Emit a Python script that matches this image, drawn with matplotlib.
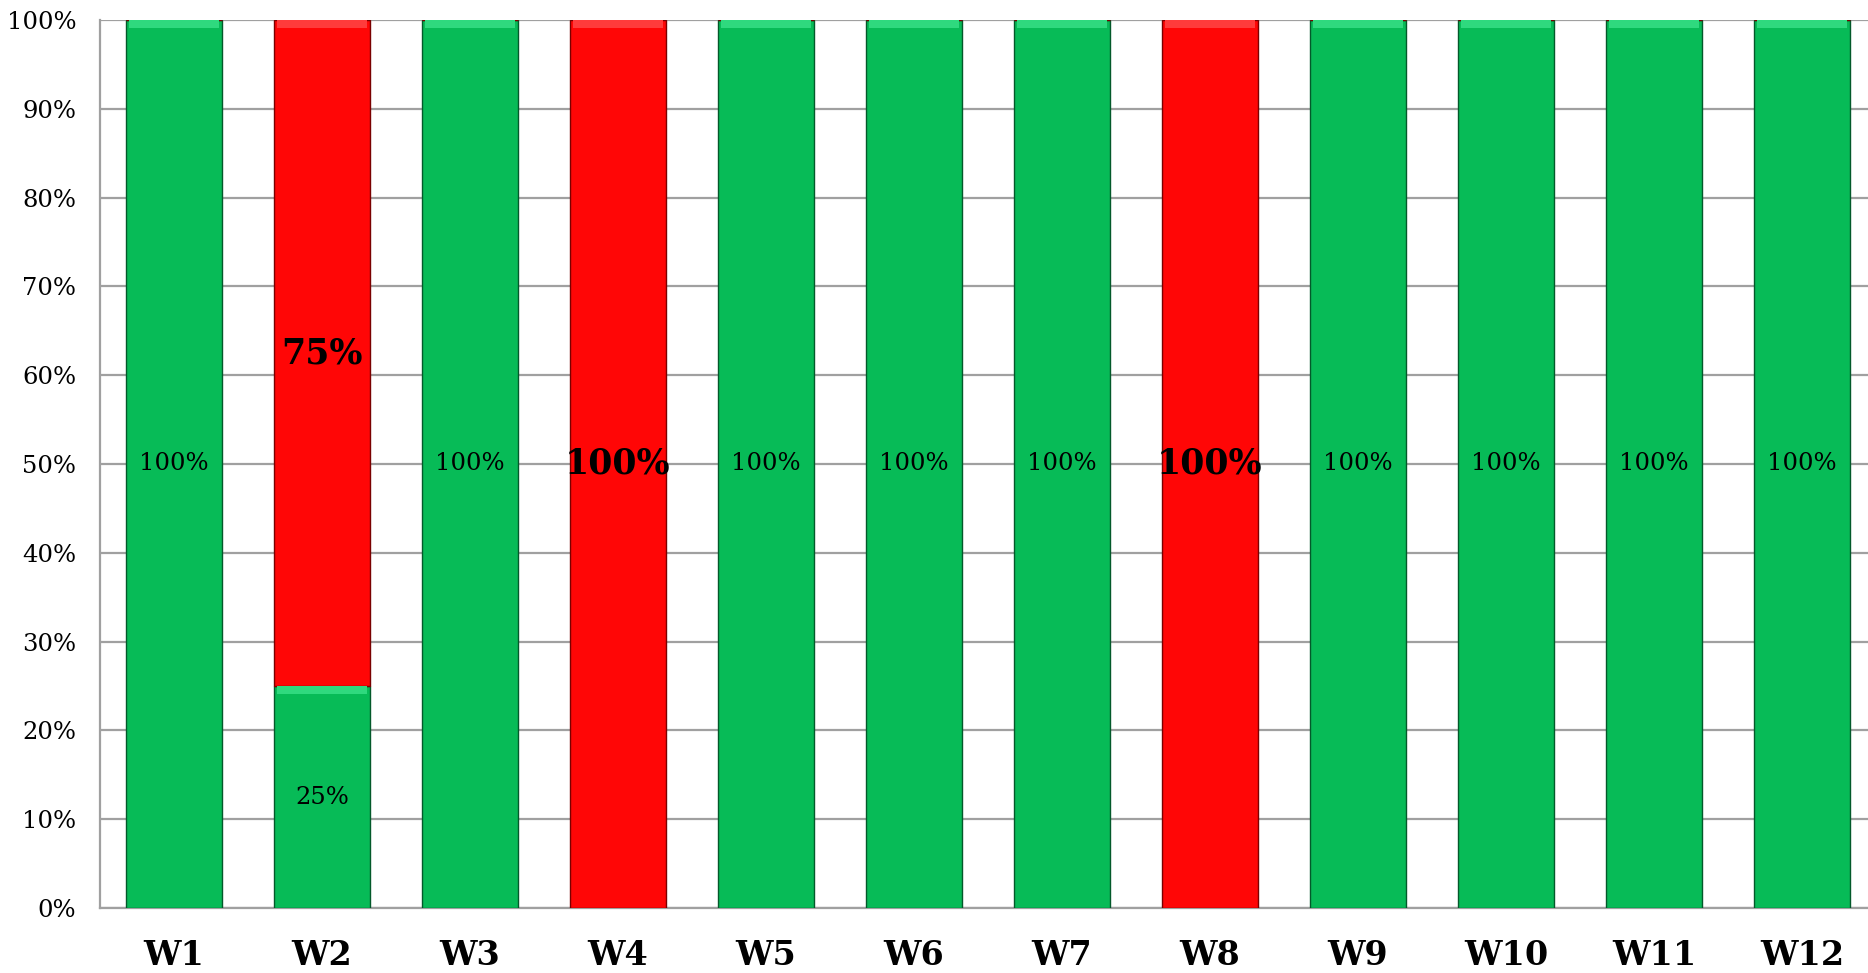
import matplotlib
matplotlib.use("Agg")
import matplotlib.pyplot as plt
import numpy as np

# data (percent of each week)
weeks = ["W1", "W2", "W3", "W4", "W5", "W6", "W7", "W8", "W9", "W10", "W11", "W12"]
green_pct = [100, 25, 100, 0, 100, 100, 100, 0, 100, 100, 100, 100]
red_pct = [0, 75, 0, 100, 0, 0, 0, 100, 0, 0, 0, 0]
yticks = [0, 10, 20, 30, 40, 50, 60, 70, 80, 90, 100]

GREEN = "#07BB57"
GREEN_TOP = "#2FD97E"
GREEN_EDGE = "#03592A"
RED = "#FF0606"
RED_TOP = "#FF3B3B"
RED_EDGE = "#7A0000"

plt.rcParams["font.family"] = ["DejaVu Serif"]

fig = plt.figure(figsize=(18.68, 9.73), dpi=100)
ax = fig.add_axes([100 / 1868, 65 / 973, 1776 / 1868, 888 / 973])

x = np.arange(len(weeks))
green = np.array(green_pct)
red = np.array(red_pct)
w = 0.65

ax.set_axisbelow(True)
ax.yaxis.grid(True, color="#A0A0A0", lw=1.6)

g = ax.bar(x, green, w, color=GREEN, edgecolor=GREEN_EDGE, lw=1.0, zorder=3)
r = ax.bar(x, red, w, bottom=green, color=RED, edgecolor=RED_EDGE, lw=1.0, zorder=3)

# light bevel strip along the top of each segment
bev = 0.9
gm = green > 0
rm = red > 0
ax.bar(x[gm], bev, w * 0.94, bottom=green[gm] - bev, color=GREEN_TOP, lw=0, zorder=4)
ax.bar(x[rm], bev, w * 0.94, bottom=(green + red)[rm] - bev, color=RED_TOP, lw=0, zorder=4)

ax.bar_label(g, labels=[f"{v}%" if v > 0 else "" for v in green_pct],
             label_type="center", fontsize=17.5, color="black", zorder=5)
ax.bar_label(r, labels=[f"{v}%" if v > 0 else "" for v in red_pct],
             label_type="center", fontsize=25, fontweight="bold", color="black", zorder=5)

ax.set_xlim(-0.5, len(weeks) - 0.5)
ax.set_ylim(0, 100)
ax.set_yticks(yticks)
ax.set_yticklabels([f"{t}%" for t in yticks])
ax.set_xticks(x)
ax.set_xticklabels(weeks, fontsize=24, fontweight="bold")
ax.tick_params(axis="y", length=0, pad=17, labelsize=17.5)
ax.tick_params(axis="x", length=0, pad=22)

for s in ["top", "right"]:
    ax.spines[s].set_visible(False)
ax.spines["left"].set_color("#A0A0A0")
ax.spines["bottom"].set_color("#A0A0A0")
ax.spines["left"].set_linewidth(1.6)
ax.spines["bottom"].set_linewidth(1.6)

fig.savefig("out.png", dpi=100)
